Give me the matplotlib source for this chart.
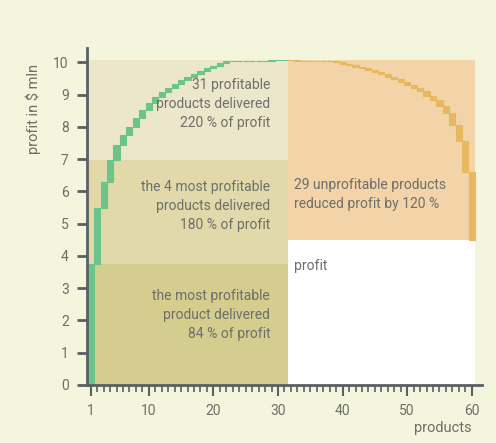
import numpy as np
from matplotlib import pyplot as plt

# cumulative profit ($ mln) after each product, sorted by profitability
products = np.arange(1, 61)
cum_profit = [3.75, 5.48, 6.28, 6.97, 7.45, 7.74, 7.99, 8.27, 8.51, 8.73,
              8.92, 9.07, 9.19, 9.32, 9.44, 9.55, 9.65, 9.74, 9.82, 9.90,
              9.97, 10.03, 10.04, 10.045, 10.05, 10.053, 10.055, 10.057, 10.058, 10.059,
              10.06, 10.058, 10.055, 10.052, 10.048, 10.044, 10.04, 10.03, 10.00, 9.96,
              9.92, 9.87, 9.82, 9.76, 9.70, 9.63, 9.56, 9.48, 9.40, 9.31,
              9.21, 9.10, 8.97, 8.83, 8.66, 8.43, 8.05, 7.55, 6.60, 4.50]
n_profitable = 31

band_labels = ["the most profitable\nproduct delivered\n84 % of profit",
               "the 4 most profitable\nproducts delivered\n180 % of profit",
               "31 profitable\nproducts delivered\n220 % of profit"]
loss_label = "29 unprofitable products\nreduced profit by 120 %"
profit_label = "profit"

bg = '#f3f5dc'
txt = '#6e6e6a'
axc = '#5a5f63'
plt.rcParams['font.family'] = ['Roboto', 'DejaVu Sans']

cum = np.array(cum_profit)
prev = np.concatenate([[0], cum[:-1]])
top = cum.max()
final = cum[-1]
split = n_profitable + 0.5

fig = plt.figure(figsize=(4.96, 4.43), dpi=100, facecolor=bg)
ax = fig.add_axes([0.175, 0.131, 0.797, 0.761])
ax.set_facecolor(bg)
x0 = 0.4

# background bands
ax.bar(x0, cum[0], width=split - x0, bottom=0, align='edge', color='#d5cd8e', zorder=1)
ax.bar(x0, cum[3] - cum[0], width=split - x0, bottom=cum[0], align='edge', color='#e2d9ab', zorder=1)
ax.bar(x0, top - cum[3], width=split - x0, bottom=cum[3], align='edge', color='#ece7cb', zorder=1)
ax.bar(split, top - final, width=60.5 - split, bottom=final, align='edge', color='#f2d4a8', zorder=1)
ax.bar(split, final, width=60.5 - split, bottom=0, align='edge', color='white', zorder=1)

# step bars
gain = products <= n_profitable
ax.bar(products[gain], cum[gain] - prev[gain], bottom=prev[gain], width=0.95,
       color='#6cc48a', edgecolor='#6cc48a', linewidth=0.8, zorder=2)
loss = ~gain
ax.bar(products[loss], prev[loss] - cum[loss], bottom=cum[loss], width=0.95,
       color='#e8b860', edgecolor='#e8b860', linewidth=0.8, zorder=2)

fs = 10
tx = 28.8
ax.text(tx, cum[0] / 2 + 0.3, band_labels[0], ha='right', va='center', fontsize=fs,
        color=txt, linespacing=1.45, zorder=3)
ax.text(tx, 5.55, band_labels[1], ha='right', va='center', fontsize=fs,
        color=txt, linespacing=1.45, zorder=3)
ax.text(tx, 8.7, band_labels[2], ha='right', va='center', fontsize=fs,
        color=txt, linespacing=1.45, zorder=3)
ax.text(32.5, 5.9, loss_label, ha='left', va='center', fontsize=fs,
        color=txt, linespacing=1.45, zorder=3)
ax.text(32.5, 3.7, profit_label, ha='left', va='center', fontsize=fs, color=txt, zorder=3)

ax.set_xlim(x0, 61.6)
ax.set_ylim(0, 10.45)
for s in ['top', 'right']:
    ax.spines[s].set_visible(False)
for s in ['left', 'bottom']:
    ax.spines[s].set_color(axc)
    ax.spines[s].set_linewidth(2)
    ax.spines[s].set_zorder(4)

ax.set_yticks(range(0, 11))
ax.set_xticks([1, 10, 20, 30, 40, 50, 60])
ax.set_xticks(range(1, 61), minor=True)
ax.tick_params(axis='y', length=7, width=2, color=axc, labelcolor=txt, labelsize=10, pad=6)
ax.tick_params(axis='x', which='major', length=8, width=1.5, color=axc, labelcolor=txt,
               labelsize=10, pad=6)
ax.tick_params(axis='x', which='minor', length=5, width=1.2, color=axc)

fig.text(0.068, 0.755, "profit in $ mln", rotation=90, ha='center', va='center',
         fontsize=10.5, color=txt)
fig.text(0.95, 0.033, "products", ha='right', va='center', fontsize=10.5, color=txt)

plt.savefig("out.png", facecolor=bg)
